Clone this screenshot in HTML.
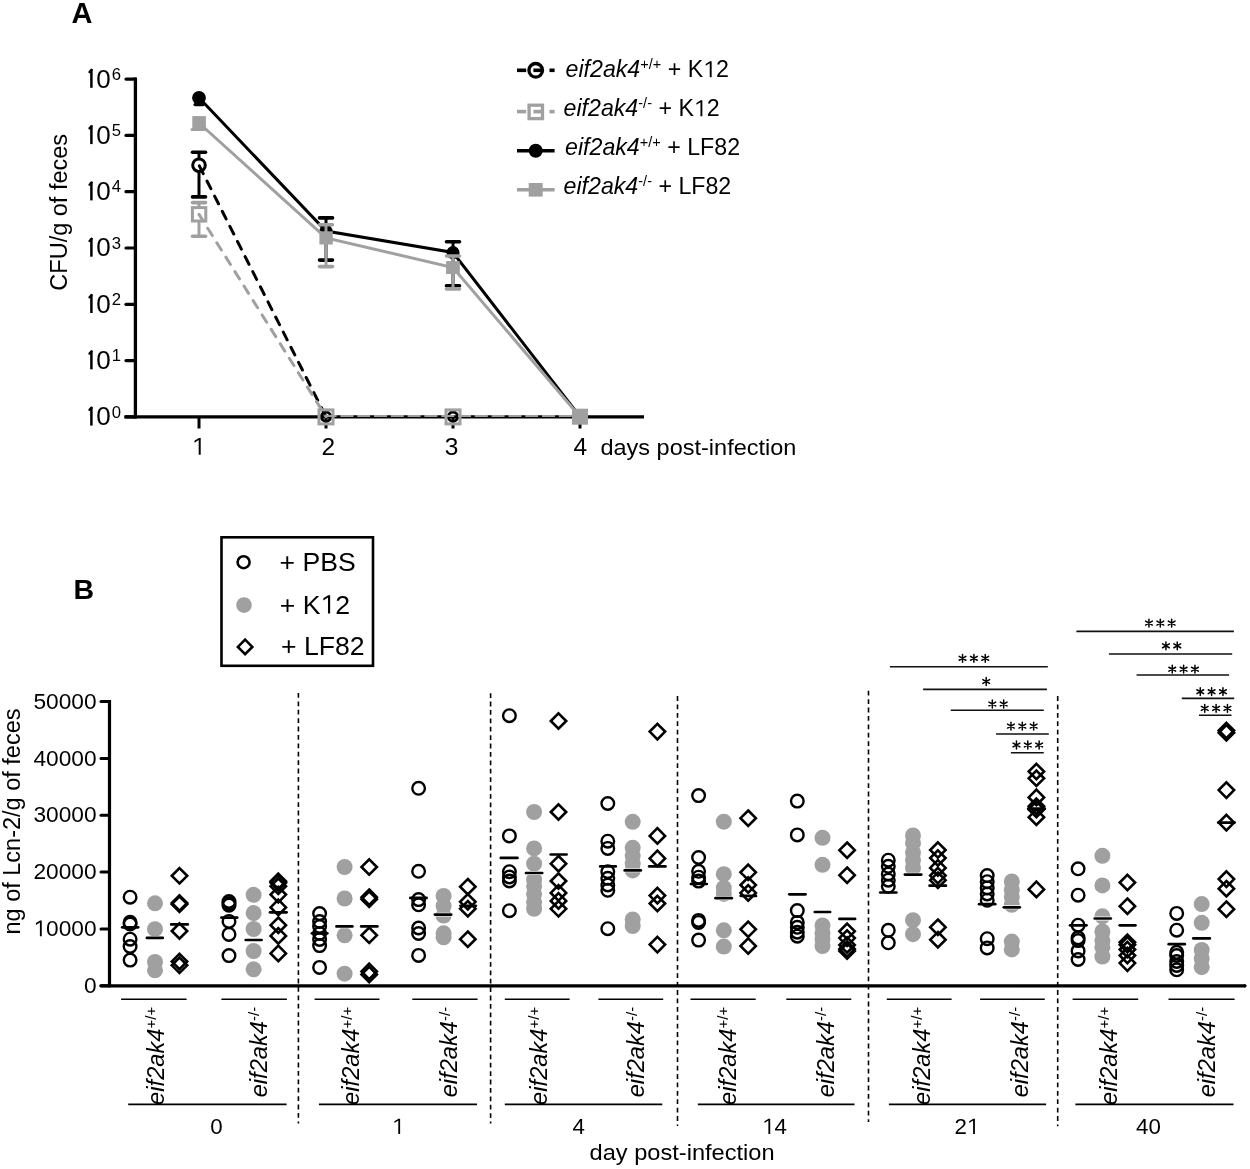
<!DOCTYPE html>
<html><head><meta charset="utf-8"><style>
html,body{margin:0;padding:0;background:#fff;width:1250px;height:1169px;overflow:hidden}
svg{display:block;filter:grayscale(100%)}
text{font-family:"Liberation Sans",sans-serif;fill:#000}
</style></head><body>
<svg width="1250" height="1169" viewBox="0 0 1250 1169">
<rect width="1250" height="1169" fill="#fff"/>
<text x="71.5" y="22.7" font-size="29" font-weight="bold">A</text>
<line x1="135.4" y1="77.50000000000003" x2="135.4" y2="418.5" stroke="#000" stroke-width="3.3"/>
<line x1="126" y1="416.9" x2="135.4" y2="416.9" stroke="#000" stroke-width="3.2" stroke-linecap="round"/>
<path d="M91.4,407.2V425.6" stroke="#000" stroke-width="2.5" fill="none"/>
<path d="M91.6,407.6L89.5,409.9" stroke="#000" stroke-width="2.3" stroke-linecap="round" fill="none"/>
<text x="96.3" y="425.3" font-size="26">0</text>
<text x="111.8" y="417.5" font-size="16.7">0</text>
<line x1="126" y1="360.6" x2="135.4" y2="360.6" stroke="#000" stroke-width="3.2" stroke-linecap="round"/>
<path d="M91.4,350.9V369.3" stroke="#000" stroke-width="2.5" fill="none"/>
<path d="M91.6,351.3L89.5,353.6" stroke="#000" stroke-width="2.3" stroke-linecap="round" fill="none"/>
<text x="96.3" y="369.0" font-size="26">0</text>
<text x="111.8" y="361.2" font-size="16.7">1</text>
<line x1="126" y1="304.3" x2="135.4" y2="304.3" stroke="#000" stroke-width="3.2" stroke-linecap="round"/>
<path d="M91.4,294.6V313.0" stroke="#000" stroke-width="2.5" fill="none"/>
<path d="M91.6,295.0L89.5,297.3" stroke="#000" stroke-width="2.3" stroke-linecap="round" fill="none"/>
<text x="96.3" y="312.7" font-size="26">0</text>
<text x="111.8" y="304.9" font-size="16.7">2</text>
<line x1="126" y1="248.0" x2="135.4" y2="248.0" stroke="#000" stroke-width="3.2" stroke-linecap="round"/>
<path d="M91.4,238.3V256.7" stroke="#000" stroke-width="2.5" fill="none"/>
<path d="M91.6,238.7L89.5,241.0" stroke="#000" stroke-width="2.3" stroke-linecap="round" fill="none"/>
<text x="96.3" y="256.4" font-size="26">0</text>
<text x="111.8" y="248.6" font-size="16.7">3</text>
<line x1="126" y1="191.7" x2="135.4" y2="191.7" stroke="#000" stroke-width="3.2" stroke-linecap="round"/>
<path d="M91.4,182.0V200.4" stroke="#000" stroke-width="2.5" fill="none"/>
<path d="M91.6,182.4L89.5,184.7" stroke="#000" stroke-width="2.3" stroke-linecap="round" fill="none"/>
<text x="96.3" y="200.1" font-size="26">0</text>
<text x="111.8" y="192.3" font-size="16.7">4</text>
<line x1="126" y1="135.4" x2="135.4" y2="135.4" stroke="#000" stroke-width="3.2" stroke-linecap="round"/>
<path d="M91.4,125.7V144.1" stroke="#000" stroke-width="2.5" fill="none"/>
<path d="M91.6,126.1L89.5,128.4" stroke="#000" stroke-width="2.3" stroke-linecap="round" fill="none"/>
<text x="96.3" y="143.8" font-size="26">0</text>
<text x="111.8" y="136.0" font-size="16.7">5</text>
<line x1="126" y1="79.1" x2="135.4" y2="79.1" stroke="#000" stroke-width="3.2" stroke-linecap="round"/>
<path d="M91.4,69.4V87.8" stroke="#000" stroke-width="2.5" fill="none"/>
<path d="M91.6,69.8L89.5,72.1" stroke="#000" stroke-width="2.3" stroke-linecap="round" fill="none"/>
<text x="96.3" y="87.5" font-size="26">0</text>
<text x="111.8" y="79.7" font-size="16.7">6</text>
<line x1="124.4" y1="416.9" x2="644" y2="416.9" stroke="#000" stroke-width="3.3"/>
<line x1="199" y1="417" x2="199" y2="428.5" stroke="#000" stroke-width="3"/>
<text x="191.79" y="454.80" font-size="24.5" > </text><path d="M578,0V1237L222,1010V1180L593,1409H745V0Z" transform="translate(191.79,454.80) scale(0.01196,-0.01196)" fill="#000"/>
<line x1="326" y1="417" x2="326" y2="428.5" stroke="#000" stroke-width="3"/>
<text x="321.59" y="454.80" font-size="24.5" >2</text>
<line x1="453" y1="417" x2="453" y2="428.5" stroke="#000" stroke-width="3"/>
<text x="444.79" y="454.80" font-size="24.5" >3</text>
<line x1="580" y1="417" x2="580" y2="428.5" stroke="#000" stroke-width="3"/>
<text x="573.59" y="454.80" font-size="24.5" >4</text>
<text x="600.4" y="454.5" font-size="22.6" textLength="196" lengthAdjust="spacingAndGlyphs">days post-infection</text>
<text transform="translate(67.4,212.3) rotate(-90)" font-size="23.5" text-anchor="middle">CFU/g of feces</text>
<line x1="199" y1="152.2" x2="199" y2="196.9" stroke="#000" stroke-width="3"/><line x1="192.5" y1="152.2" x2="205.5" y2="152.2" stroke="#000" stroke-width="3.6" stroke-linecap="round"/><line x1="192.5" y1="196.9" x2="205.5" y2="196.9" stroke="#000" stroke-width="3.6" stroke-linecap="round"/>
<line x1="326" y1="217.9" x2="326" y2="260.1" stroke="#000" stroke-width="3"/><line x1="319.5" y1="217.9" x2="332.5" y2="217.9" stroke="#000" stroke-width="3.6" stroke-linecap="round"/><line x1="319.5" y1="260.1" x2="332.5" y2="260.1" stroke="#000" stroke-width="3.6" stroke-linecap="round"/>
<line x1="453" y1="241.7" x2="453" y2="285.7" stroke="#000" stroke-width="3"/><line x1="446.5" y1="241.7" x2="459.5" y2="241.7" stroke="#000" stroke-width="3.6" stroke-linecap="round"/><line x1="446.5" y1="285.7" x2="459.5" y2="285.7" stroke="#000" stroke-width="3.6" stroke-linecap="round"/>
<line x1="195" y1="104.6" x2="203" y2="104.6" stroke="#000" stroke-width="3.2" stroke-linecap="round"/>
<circle cx="199" cy="165.2" r="6.3" fill="#fff" stroke="#000" stroke-width="3"/>
<circle cx="326" cy="416.7" r="4.6" fill="none" stroke="#000" stroke-width="3"/>
<circle cx="453" cy="416.7" r="4.6" fill="none" stroke="#000" stroke-width="3"/>
<line x1="199" y1="165.2" x2="326" y2="416.7" stroke="#000" stroke-width="3" stroke-dasharray="8.6 8.33" stroke-dashoffset="16.16" stroke-linecap="round"/>
<polyline points="199,97.8 326,231 453,252.5 580,416.7" fill="none" stroke="#000" stroke-width="3"/>
<circle cx="199" cy="97.8" r="6.9" fill="#000"/>
<circle cx="326" cy="231" r="6.5" fill="#000"/>
<circle cx="453" cy="252.6" r="6.5" fill="#000"/>
<line x1="199" y1="202.6" x2="199" y2="236.2" stroke="#a0a0a0" stroke-width="3"/><line x1="192.5" y1="202.6" x2="205.5" y2="202.6" stroke="#a0a0a0" stroke-width="3.6" stroke-linecap="round"/><line x1="192.5" y1="236.2" x2="205.5" y2="236.2" stroke="#a0a0a0" stroke-width="3.6" stroke-linecap="round"/>
<line x1="326" y1="224.7" x2="326" y2="266.6" stroke="#a0a0a0" stroke-width="3"/><line x1="319.5" y1="224.7" x2="332.5" y2="224.7" stroke="#a0a0a0" stroke-width="3.6" stroke-linecap="round"/><line x1="319.5" y1="266.6" x2="332.5" y2="266.6" stroke="#a0a0a0" stroke-width="3.6" stroke-linecap="round"/>
<line x1="453" y1="256.0" x2="453" y2="288.9" stroke="#a0a0a0" stroke-width="3"/><line x1="446.5" y1="256.0" x2="459.5" y2="256.0" stroke="#a0a0a0" stroke-width="3.6" stroke-linecap="round"/><line x1="446.5" y1="288.9" x2="459.5" y2="288.9" stroke="#a0a0a0" stroke-width="3.6" stroke-linecap="round"/>
<line x1="192" y1="129.4" x2="206" y2="129.4" stroke="#a0a0a0" stroke-width="3" stroke-linecap="round"/>
<rect x="192.4" y="207.6" width="13.4" height="13.4" fill="#fff" stroke="#a0a0a0" stroke-width="3"/>
<line x1="199" y1="214.4" x2="326" y2="416.7" stroke="#a0a0a0" stroke-width="3" stroke-dasharray="8.6 8.45" stroke-dashoffset="0.65" stroke-linecap="round"/>
<line x1="326" y1="415.9" x2="580" y2="415.9" stroke="#a0a0a0" stroke-width="2" stroke-dasharray="13 3.8" stroke-dashoffset="2.4"/>
<polyline points="199,123 326,237.9 453,267.5 580,416.7" fill="none" stroke="#a0a0a0" stroke-width="3"/>
<rect x="192.3" y="116.1" width="13.6" height="13.8" fill="#a0a0a0"/>
<rect x="319.4" y="231.3" width="13.4" height="13.2" fill="#a0a0a0"/>
<rect x="446.1" y="261.1" width="13.7" height="12.9" fill="#a0a0a0"/>
<rect x="319" y="409.9" width="14" height="14" fill="none" stroke="#a0a0a0" stroke-width="3"/>
<rect x="446" y="409.9" width="14" height="14" fill="none" stroke="#a0a0a0" stroke-width="3"/>
<rect x="572" y="408.7" width="16" height="16" fill="#a0a0a0"/>
<line x1="517" y1="70.3" x2="526.2" y2="70.3" stroke="#000" stroke-width="3.6"/>
<line x1="533.4" y1="70.3" x2="541" y2="70.3" stroke="#000" stroke-width="3.6"/>
<line x1="549.5" y1="70.3" x2="554.6" y2="70.3" stroke="#000" stroke-width="3.6"/>
<circle cx="535.7" cy="70.3" r="6.8" fill="none" stroke="#000" stroke-width="3.3"/>
<line x1="517" y1="111.6" x2="526.2" y2="111.6" stroke="#a0a0a0" stroke-width="3.6"/>
<line x1="533.4" y1="111.6" x2="541" y2="111.6" stroke="#a0a0a0" stroke-width="3.6"/>
<line x1="549.5" y1="111.6" x2="554.6" y2="111.6" stroke="#a0a0a0" stroke-width="3.6"/>
<rect x="529.1" y="105.2" width="13.4" height="13.4" fill="none" stroke="#a0a0a0" stroke-width="3.3"/>
<line x1="517" y1="150.8" x2="554.6" y2="150.8" stroke="#000" stroke-width="3.6"/>
<circle cx="535.7" cy="150.8" r="7" fill="#000"/>
<line x1="517" y1="189.8" x2="554.6" y2="189.8" stroke="#a0a0a0" stroke-width="3.6"/>
<rect x="528.7" y="183" width="14" height="13.6" fill="#a0a0a0"/>
<text x="565.5" y="77.3" font-size="23.2"><tspan font-style="italic">eif2ak4</tspan><tspan font-size="14.5" dy="-8.6">+/+</tspan><tspan dy="8.6"> + K 2</tspan></text><path d="M578,0V1237L222,1010V1180L593,1409H745V0Z" transform="translate(703.20,77.30) scale(0.01133,-0.01133)" fill="#000"/>
<text x="563.5" y="116.3" font-size="23.2"><tspan font-style="italic">eif2ak4</tspan><tspan font-size="14.5" dy="-8.6">-/-</tspan><tspan dy="8.6"> + K 2</tspan></text><path d="M578,0V1237L222,1010V1180L593,1409H745V0Z" transform="translate(693.92,116.30) scale(0.01133,-0.01133)" fill="#000"/>
<text x="565" y="155.3" font-size="23.2"><tspan font-style="italic">eif2ak4</tspan><tspan font-size="14.5" dy="-8.6">+/+</tspan><tspan dy="8.6"> + LF82</tspan></text>
<text x="563.5" y="194.3" font-size="23.2"><tspan font-style="italic">eif2ak4</tspan><tspan font-size="14.5" dy="-8.6">-/-</tspan><tspan dy="8.6"> + LF82</tspan></text>
<text x="73.6" y="599" font-size="28.5" font-weight="bold">B</text>
<rect x="221.5" y="537.3" width="151.5" height="128.5" fill="none" stroke="#000" stroke-width="2.6"/>
<circle cx="243.6" cy="562.2" r="6" fill="none" stroke="#000" stroke-width="2.6"/>
<circle cx="244" cy="605.1" r="7.8" fill="#a0a0a0"/>
<path d="M245.1,639.7 L252.3,646.9 L245.1,654.1 L237.9,646.9 Z" fill="none" stroke="#000" stroke-width="2.6"/>
<text x="279.5" y="570.5" font-size="26.6">+ PBS</text>
<text x="279.80" y="613.50" font-size="26.6" >+ K 2</text><path d="M578,0V1237L222,1010V1180L593,1409H745V0Z" transform="translate(320.47,613.50) scale(0.01299,-0.01299)" fill="#000"/>
<text x="281.1" y="655.3" font-size="26.6">+ LF82</text>
<line x1="109.5" y1="700" x2="109.5" y2="987.3" stroke="#000" stroke-width="3.2"/>
<line x1="101" y1="985.8" x2="1244.8" y2="985.8" stroke="#000" stroke-width="3.3" stroke-linecap="round"/>
<circle cx="1244.8" cy="985.8" r="1.65" fill="#000"/>
<line x1="101" y1="985.8" x2="109.5" y2="985.8" stroke="#000" stroke-width="3" stroke-linecap="round"/>
<text x="83.98" y="993.00" font-size="22.7" >0</text>
<line x1="101" y1="928.9" x2="109.5" y2="928.9" stroke="#000" stroke-width="3" stroke-linecap="round"/>
<text x="33.49" y="936.15" font-size="22.7" > 0000</text><path d="M578,0V1237L222,1010V1180L593,1409H745V0Z" transform="translate(33.49,936.15) scale(0.01108,-0.01108)" fill="#000"/>
<line x1="101" y1="872.1" x2="109.5" y2="872.1" stroke="#000" stroke-width="3" stroke-linecap="round"/>
<text x="33.49" y="879.30" font-size="22.7" >20000</text>
<line x1="101" y1="815.2" x2="109.5" y2="815.2" stroke="#000" stroke-width="3" stroke-linecap="round"/>
<text x="33.49" y="822.45" font-size="22.7" >30000</text>
<line x1="101" y1="758.4" x2="109.5" y2="758.4" stroke="#000" stroke-width="3" stroke-linecap="round"/>
<text x="33.49" y="765.60" font-size="22.7" >40000</text>
<line x1="101" y1="701.5" x2="109.5" y2="701.5" stroke="#000" stroke-width="3" stroke-linecap="round"/>
<text x="33.49" y="708.75" font-size="22.7" >50000</text>
<text transform="translate(19.8,821.5) rotate(-90)" font-size="23.5" text-anchor="middle">ng of Lcn-2/g of feces</text>
<line x1="298.4" y1="693" x2="298.4" y2="1123.5" stroke="#000" stroke-width="1.6" stroke-dasharray="4.8 3.6"/>
<line x1="490.6" y1="693.2" x2="490.6" y2="1123.6" stroke="#000" stroke-width="1.6" stroke-dasharray="4.8 3.6"/>
<line x1="677.5" y1="696.1" x2="677.5" y2="1126" stroke="#000" stroke-width="1.6" stroke-dasharray="4.8 3.6"/>
<line x1="868.5" y1="690.8" x2="868.5" y2="1122" stroke="#000" stroke-width="1.6" stroke-dasharray="4.8 3.6"/>
<line x1="1057.7" y1="696.1" x2="1057.7" y2="1126.3" stroke="#000" stroke-width="1.6" stroke-dasharray="4.8 3.6"/>
<line x1="121.1" y1="999.2" x2="186.6" y2="999.2" stroke="#000" stroke-width="1.6"/>
<line x1="221.4" y1="999.2" x2="286.9" y2="999.2" stroke="#000" stroke-width="1.6"/>
<line x1="128.2" y1="1104.4" x2="286.6" y2="1104.4" stroke="#000" stroke-width="1.6"/>
<text x="210.30" y="1134.00" font-size="22.3" >0</text>
<text transform="translate(163.7,1006.8) rotate(-90)" font-size="23.7" text-anchor="end"><tspan font-style="italic">eif2ak4</tspan><tspan font-size="15" dy="-7.6">+/+</tspan></text>
<text transform="translate(266.6,1006.8) rotate(-90)" font-size="23.7" text-anchor="end"><tspan font-style="italic">eif2ak4</tspan><tspan font-size="15" dy="-7.6">-/-</tspan></text>
<line x1="314.6" y1="999.2" x2="379.5" y2="999.2" stroke="#000" stroke-width="1.6"/>
<line x1="412.3" y1="999.2" x2="477.6" y2="999.2" stroke="#000" stroke-width="1.6"/>
<line x1="318.9" y1="1104.4" x2="477.0" y2="1104.4" stroke="#000" stroke-width="1.6"/>
<text x="392.00" y="1134.00" font-size="22.3" > </text><path d="M578,0V1237L222,1010V1180L593,1409H745V0Z" transform="translate(392.00,1134.00) scale(0.01089,-0.01089)" fill="#000"/>
<text transform="translate(359.3,1006.8) rotate(-90)" font-size="23.7" text-anchor="end"><tspan font-style="italic">eif2ak4</tspan><tspan font-size="15" dy="-7.6">+/+</tspan></text>
<text transform="translate(457.1,1006.8) rotate(-90)" font-size="23.7" text-anchor="end"><tspan font-style="italic">eif2ak4</tspan><tspan font-size="15" dy="-7.6">-/-</tspan></text>
<line x1="504.8" y1="999.2" x2="569.6" y2="999.2" stroke="#000" stroke-width="1.6"/>
<line x1="598.4" y1="999.2" x2="663.2" y2="999.2" stroke="#000" stroke-width="1.6"/>
<line x1="504.8" y1="1104.4" x2="662.3" y2="1104.4" stroke="#000" stroke-width="1.6"/>
<text x="572.40" y="1134.00" font-size="22.3" >4</text>
<text transform="translate(546.5,1006.8) rotate(-90)" font-size="23.7" text-anchor="end"><tspan font-style="italic">eif2ak4</tspan><tspan font-size="15" dy="-7.6">+/+</tspan></text>
<text transform="translate(644.3,1006.8) rotate(-90)" font-size="23.7" text-anchor="end"><tspan font-style="italic">eif2ak4</tspan><tspan font-size="15" dy="-7.6">-/-</tspan></text>
<line x1="690.5" y1="999.2" x2="755.7" y2="999.2" stroke="#000" stroke-width="1.6"/>
<line x1="786.3" y1="999.2" x2="851.3" y2="999.2" stroke="#000" stroke-width="1.6"/>
<line x1="697.8" y1="1104.4" x2="854.5" y2="1104.4" stroke="#000" stroke-width="1.6"/>
<text x="762.10" y="1134.00" font-size="22.3" > 4</text><path d="M578,0V1237L222,1010V1180L593,1409H745V0Z" transform="translate(762.10,1134.00) scale(0.01089,-0.01089)" fill="#000"/>
<text transform="translate(735.8,1006.8) rotate(-90)" font-size="23.7" text-anchor="end"><tspan font-style="italic">eif2ak4</tspan><tspan font-size="15" dy="-7.6">+/+</tspan></text>
<text transform="translate(833.8,1006.8) rotate(-90)" font-size="23.7" text-anchor="end"><tspan font-style="italic">eif2ak4</tspan><tspan font-size="15" dy="-7.6">-/-</tspan></text>
<line x1="886.8" y1="999.2" x2="951.6" y2="999.2" stroke="#000" stroke-width="1.6"/>
<line x1="980.1" y1="999.2" x2="1044.8" y2="999.2" stroke="#000" stroke-width="1.6"/>
<line x1="888.9" y1="1104.4" x2="1046.1" y2="1104.4" stroke="#000" stroke-width="1.6"/>
<text x="954.40" y="1134.00" font-size="22.3" >2 </text><path d="M578,0V1237L222,1010V1180L593,1409H745V0Z" transform="translate(966.80,1134.00) scale(0.01089,-0.01089)" fill="#000"/>
<text transform="translate(929.7,1006.8) rotate(-90)" font-size="23.7" text-anchor="end"><tspan font-style="italic">eif2ak4</tspan><tspan font-size="15" dy="-7.6">+/+</tspan></text>
<text transform="translate(1027.5,1006.8) rotate(-90)" font-size="23.7" text-anchor="end"><tspan font-style="italic">eif2ak4</tspan><tspan font-size="15" dy="-7.6">-/-</tspan></text>
<line x1="1072.6" y1="999.2" x2="1138.2" y2="999.2" stroke="#000" stroke-width="1.6"/>
<line x1="1168.5" y1="999.2" x2="1234.6" y2="999.2" stroke="#000" stroke-width="1.6"/>
<line x1="1075.4" y1="1104.4" x2="1233.5" y2="1104.4" stroke="#000" stroke-width="1.6"/>
<text x="1136.10" y="1134.00" font-size="22.3" >40</text>
<text transform="translate(1116.9,1006.8) rotate(-90)" font-size="23.7" text-anchor="end"><tspan font-style="italic">eif2ak4</tspan><tspan font-size="15" dy="-7.6">+/+</tspan></text>
<text transform="translate(1214.9,1006.8) rotate(-90)" font-size="23.7" text-anchor="end"><tspan font-style="italic">eif2ak4</tspan><tspan font-size="15" dy="-7.6">-/-</tspan></text>
<text x="589.6" y="1160" font-size="22.6" textLength="185" lengthAdjust="spacingAndGlyphs">day post-infection</text>
<circle cx="130.1" cy="897.2" r="6.3" fill="none" stroke="#000" stroke-width="2.4"/>
<circle cx="130.1" cy="922.3" r="6.3" fill="none" stroke="#000" stroke-width="2.4"/>
<circle cx="130.1" cy="924.0" r="6.3" fill="none" stroke="#000" stroke-width="2.4"/>
<circle cx="130.1" cy="939.2" r="6.3" fill="none" stroke="#000" stroke-width="2.4"/>
<circle cx="130.1" cy="946.5" r="6.3" fill="none" stroke="#000" stroke-width="2.4"/>
<circle cx="130.1" cy="960.1" r="6.3" fill="none" stroke="#000" stroke-width="2.4"/>
<line x1="122.2" y1="927.3" x2="138.10000000000002" y2="927.3" stroke="#000" stroke-width="2.7" stroke-linecap="round"/>
<circle cx="155.0" cy="903.3" r="8.0" fill="#a0a0a0"/>
<circle cx="155.0" cy="929.2" r="8.0" fill="#a0a0a0"/>
<circle cx="155.0" cy="962.0" r="8.0" fill="#a0a0a0"/>
<circle cx="155.0" cy="970.3" r="8.0" fill="#a0a0a0"/>
<line x1="146.7" y1="937.9" x2="163.0" y2="937.9" stroke="#fff" stroke-width="3.9" stroke-linecap="round"/><line x1="146.89999999999998" y1="937.9" x2="162.8" y2="937.9" stroke="#000" stroke-width="2.7" stroke-linecap="round"/>
<path d="M179.5,868.1 L187.2,875.8 L179.5,883.5 L171.8,875.8 Z" fill="none" stroke="#000" stroke-width="2.6"/>
<path d="M179.5,895.3 L187.2,903.0 L179.5,910.7 L171.8,903.0 Z" fill="none" stroke="#000" stroke-width="2.6"/>
<path d="M179.5,896.5 L187.2,904.2 L179.5,911.9 L171.8,904.2 Z" fill="none" stroke="#000" stroke-width="2.6"/>
<path d="M179.5,923.3 L187.2,931.0 L179.5,938.7 L171.8,931.0 Z" fill="none" stroke="#000" stroke-width="2.6"/>
<path d="M179.5,953.8 L187.2,961.5 L179.5,969.2 L171.8,961.5 Z" fill="none" stroke="#000" stroke-width="2.6"/>
<path d="M179.5,957.6 L187.2,965.3 L179.5,973.0 L171.8,965.3 Z" fill="none" stroke="#000" stroke-width="2.6"/>
<line x1="171.2" y1="924.4" x2="187.8" y2="924.4" stroke="#000" stroke-width="2.7" stroke-linecap="round"/>
<circle cx="229.0" cy="901.5" r="6.3" fill="none" stroke="#000" stroke-width="2.4"/>
<circle cx="229.0" cy="903.5" r="6.3" fill="none" stroke="#000" stroke-width="2.4"/>
<circle cx="229.0" cy="905.2" r="6.3" fill="none" stroke="#000" stroke-width="2.4"/>
<circle cx="229.0" cy="921.4" r="6.3" fill="none" stroke="#000" stroke-width="2.4"/>
<circle cx="229.0" cy="934.4" r="6.3" fill="none" stroke="#000" stroke-width="2.4"/>
<circle cx="229.0" cy="955.6" r="6.3" fill="none" stroke="#000" stroke-width="2.4"/>
<line x1="221.39999999999998" y1="917.6" x2="237.20000000000002" y2="917.6" stroke="#000" stroke-width="2.7" stroke-linecap="round"/>
<circle cx="253.6" cy="894.8" r="8.0" fill="#a0a0a0"/>
<circle cx="253.6" cy="913.1" r="8.0" fill="#a0a0a0"/>
<circle cx="253.6" cy="929.0" r="8.0" fill="#a0a0a0"/>
<circle cx="253.6" cy="951.0" r="8.0" fill="#a0a0a0"/>
<circle cx="253.6" cy="969.3" r="8.0" fill="#a0a0a0"/>
<line x1="245.5" y1="940.0" x2="261.8" y2="940.0" stroke="#fff" stroke-width="3.9" stroke-linecap="round"/><line x1="245.7" y1="940.0" x2="261.6" y2="940.0" stroke="#000" stroke-width="2.7" stroke-linecap="round"/>
<path d="M278.3,873.6 L286.0,881.3 L278.3,889.0 L270.6,881.3 Z" fill="none" stroke="#000" stroke-width="2.6"/>
<path d="M278.3,875.1 L286.0,882.8 L278.3,890.5 L270.6,882.8 Z" fill="none" stroke="#000" stroke-width="2.6"/>
<path d="M278.3,878.5 L286.0,886.2 L278.3,893.9 L270.6,886.2 Z" fill="none" stroke="#000" stroke-width="2.6"/>
<path d="M278.3,886.9 L286.0,894.6 L278.3,902.3 L270.6,894.6 Z" fill="none" stroke="#000" stroke-width="2.6"/>
<path d="M278.3,899.7 L286.0,907.4 L278.3,915.1 L270.6,907.4 Z" fill="none" stroke="#000" stroke-width="2.6"/>
<path d="M278.3,917.5 L286.0,925.2 L278.3,932.9 L270.6,925.2 Z" fill="none" stroke="#000" stroke-width="2.6"/>
<path d="M278.3,928.2 L286.0,935.9 L278.3,943.6 L270.6,935.9 Z" fill="none" stroke="#000" stroke-width="2.6"/>
<path d="M278.3,945.7 L286.0,953.4 L278.3,961.1 L270.6,953.4 Z" fill="none" stroke="#000" stroke-width="2.6"/>
<line x1="270.0" y1="912.3" x2="286.6" y2="912.3" stroke="#000" stroke-width="2.7" stroke-linecap="round"/>
<circle cx="319.6" cy="913.6" r="6.3" fill="none" stroke="#000" stroke-width="2.4"/>
<circle cx="319.6" cy="921.5" r="6.3" fill="none" stroke="#000" stroke-width="2.4"/>
<circle cx="319.6" cy="926.5" r="6.3" fill="none" stroke="#000" stroke-width="2.4"/>
<circle cx="319.6" cy="933.5" r="6.3" fill="none" stroke="#000" stroke-width="2.4"/>
<circle cx="319.6" cy="939.5" r="6.3" fill="none" stroke="#000" stroke-width="2.4"/>
<circle cx="319.6" cy="945.6" r="6.3" fill="none" stroke="#000" stroke-width="2.4"/>
<circle cx="319.6" cy="967.4" r="6.3" fill="none" stroke="#000" stroke-width="2.4"/>
<line x1="311.9" y1="933.3" x2="327.3" y2="933.3" stroke="#000" stroke-width="2.7" stroke-linecap="round"/>
<circle cx="344.6" cy="867.0" r="8.0" fill="#a0a0a0"/>
<circle cx="344.6" cy="898.5" r="8.0" fill="#a0a0a0"/>
<circle cx="344.6" cy="935.3" r="8.0" fill="#a0a0a0"/>
<circle cx="344.6" cy="973.7" r="8.0" fill="#a0a0a0"/>
<line x1="336.3" y1="926.4" x2="352.6" y2="926.4" stroke="#fff" stroke-width="3.9" stroke-linecap="round"/><line x1="336.5" y1="926.4" x2="352.40000000000003" y2="926.4" stroke="#000" stroke-width="2.7" stroke-linecap="round"/>
<path d="M369.2,859.3 L376.9,867.0 L369.2,874.7 L361.5,867.0 Z" fill="none" stroke="#000" stroke-width="2.6"/>
<path d="M369.2,889.5 L376.9,897.2 L369.2,904.9 L361.5,897.2 Z" fill="none" stroke="#000" stroke-width="2.6"/>
<path d="M369.2,891.5 L376.9,899.2 L369.2,906.9 L361.5,899.2 Z" fill="none" stroke="#000" stroke-width="2.6"/>
<path d="M369.2,927.6 L376.9,935.3 L369.2,943.0 L361.5,935.3 Z" fill="none" stroke="#000" stroke-width="2.6"/>
<path d="M369.2,963.7 L376.9,971.4 L369.2,979.1 L361.5,971.4 Z" fill="none" stroke="#000" stroke-width="2.6"/>
<path d="M369.2,966.8 L376.9,974.5 L369.2,982.2 L361.5,974.5 Z" fill="none" stroke="#000" stroke-width="2.6"/>
<line x1="361.2" y1="926.4" x2="377.40000000000003" y2="926.4" stroke="#000" stroke-width="2.7" stroke-linecap="round"/>
<circle cx="418.6" cy="788.3" r="6.3" fill="none" stroke="#000" stroke-width="2.4"/>
<circle cx="418.6" cy="871.3" r="6.3" fill="none" stroke="#000" stroke-width="2.4"/>
<circle cx="418.6" cy="899.6" r="6.3" fill="none" stroke="#000" stroke-width="2.4"/>
<circle cx="418.6" cy="904.8" r="6.3" fill="none" stroke="#000" stroke-width="2.4"/>
<circle cx="418.6" cy="928.0" r="6.3" fill="none" stroke="#000" stroke-width="2.4"/>
<circle cx="418.6" cy="933.5" r="6.3" fill="none" stroke="#000" stroke-width="2.4"/>
<circle cx="418.6" cy="955.4" r="6.3" fill="none" stroke="#000" stroke-width="2.4"/>
<line x1="410.3" y1="897.9" x2="426.6" y2="897.9" stroke="#000" stroke-width="2.7" stroke-linecap="round"/>
<circle cx="443.6" cy="895.9" r="8.0" fill="#a0a0a0"/>
<circle cx="443.6" cy="905.8" r="8.0" fill="#a0a0a0"/>
<circle cx="443.6" cy="915.6" r="8.0" fill="#a0a0a0"/>
<circle cx="443.6" cy="933.3" r="8.0" fill="#a0a0a0"/>
<circle cx="443.6" cy="937.3" r="8.0" fill="#a0a0a0"/>
<line x1="434.7" y1="914.6" x2="451.4" y2="914.6" stroke="#fff" stroke-width="3.9" stroke-linecap="round"/><line x1="434.9" y1="914.6" x2="451.2" y2="914.6" stroke="#000" stroke-width="2.7" stroke-linecap="round"/>
<path d="M467.8,879.0 L475.5,886.7 L467.8,894.4 L460.1,886.7 Z" fill="none" stroke="#000" stroke-width="2.6"/>
<path d="M467.8,894.1 L475.5,901.8 L467.8,909.5 L460.1,901.8 Z" fill="none" stroke="#000" stroke-width="2.6"/>
<path d="M467.8,901.0 L475.5,908.7 L467.8,916.4 L460.1,908.7 Z" fill="none" stroke="#000" stroke-width="2.6"/>
<path d="M467.8,931.5 L475.5,939.2 L467.8,946.9 L460.1,939.2 Z" fill="none" stroke="#000" stroke-width="2.6"/>
<line x1="460.5" y1="905.8" x2="475.8" y2="905.8" stroke="#000" stroke-width="2.7" stroke-linecap="round"/>
<circle cx="509.4" cy="715.7" r="6.3" fill="none" stroke="#000" stroke-width="2.4"/>
<circle cx="509.4" cy="835.9" r="6.3" fill="none" stroke="#000" stroke-width="2.4"/>
<circle cx="509.4" cy="871.7" r="6.3" fill="none" stroke="#000" stroke-width="2.4"/>
<circle cx="509.4" cy="877.0" r="6.3" fill="none" stroke="#000" stroke-width="2.4"/>
<circle cx="509.4" cy="881.0" r="6.3" fill="none" stroke="#000" stroke-width="2.4"/>
<circle cx="509.4" cy="910.7" r="6.3" fill="none" stroke="#000" stroke-width="2.4"/>
<line x1="500.8" y1="857.9" x2="517.5" y2="857.9" stroke="#000" stroke-width="2.7" stroke-linecap="round"/>
<circle cx="534.1" cy="812.0" r="8.0" fill="#a0a0a0"/>
<circle cx="534.1" cy="848.4" r="8.0" fill="#a0a0a0"/>
<circle cx="534.1" cy="863.7" r="8.0" fill="#a0a0a0"/>
<circle cx="534.1" cy="879.7" r="8.0" fill="#a0a0a0"/>
<circle cx="534.1" cy="886.3" r="8.0" fill="#a0a0a0"/>
<circle cx="534.1" cy="894.2" r="8.0" fill="#a0a0a0"/>
<circle cx="534.1" cy="902.2" r="8.0" fill="#a0a0a0"/>
<circle cx="534.1" cy="908.8" r="8.0" fill="#a0a0a0"/>
<line x1="525.8" y1="873.0" x2="542.4" y2="873.0" stroke="#fff" stroke-width="3.9" stroke-linecap="round"/><line x1="526.0" y1="873.0" x2="542.1999999999999" y2="873.0" stroke="#000" stroke-width="2.7" stroke-linecap="round"/>
<path d="M558.5,713.3 L566.2,721.0 L558.5,728.7 L550.8,721.0 Z" fill="none" stroke="#000" stroke-width="2.6"/>
<path d="M558.5,804.3 L566.2,812.0 L558.5,819.7 L550.8,812.0 Z" fill="none" stroke="#000" stroke-width="2.6"/>
<path d="M558.5,856.0 L566.2,863.7 L558.5,871.4 L550.8,863.7 Z" fill="none" stroke="#000" stroke-width="2.6"/>
<path d="M558.5,873.3 L566.2,881.0 L558.5,888.7 L550.8,881.0 Z" fill="none" stroke="#000" stroke-width="2.6"/>
<path d="M558.5,885.2 L566.2,892.9 L558.5,900.6 L550.8,892.9 Z" fill="none" stroke="#000" stroke-width="2.6"/>
<path d="M558.5,893.2 L566.2,900.9 L558.5,908.6 L550.8,900.9 Z" fill="none" stroke="#000" stroke-width="2.6"/>
<path d="M558.5,901.1 L566.2,908.8 L558.5,916.5 L550.8,908.8 Z" fill="none" stroke="#000" stroke-width="2.6"/>
<line x1="550.7" y1="854.5" x2="566.5999999999999" y2="854.5" stroke="#000" stroke-width="2.7" stroke-linecap="round"/>
<circle cx="607.8" cy="803.5" r="6.3" fill="none" stroke="#000" stroke-width="2.4"/>
<circle cx="607.8" cy="841.2" r="6.3" fill="none" stroke="#000" stroke-width="2.4"/>
<circle cx="607.8" cy="848.4" r="6.3" fill="none" stroke="#000" stroke-width="2.4"/>
<circle cx="607.8" cy="871.7" r="6.3" fill="none" stroke="#000" stroke-width="2.4"/>
<circle cx="607.8" cy="878.3" r="6.3" fill="none" stroke="#000" stroke-width="2.4"/>
<circle cx="607.8" cy="885.0" r="6.3" fill="none" stroke="#000" stroke-width="2.4"/>
<circle cx="607.8" cy="890.3" r="6.3" fill="none" stroke="#000" stroke-width="2.4"/>
<circle cx="607.8" cy="928.7" r="6.3" fill="none" stroke="#000" stroke-width="2.4"/>
<line x1="600.2" y1="866.4" x2="615.8" y2="866.4" stroke="#000" stroke-width="2.7" stroke-linecap="round"/>
<circle cx="632.7" cy="821.8" r="8.0" fill="#a0a0a0"/>
<circle cx="632.7" cy="847.8" r="8.0" fill="#a0a0a0"/>
<circle cx="632.7" cy="855.8" r="8.0" fill="#a0a0a0"/>
<circle cx="632.7" cy="863.7" r="8.0" fill="#a0a0a0"/>
<circle cx="632.7" cy="870.4" r="8.0" fill="#a0a0a0"/>
<circle cx="632.7" cy="919.4" r="8.0" fill="#a0a0a0"/>
<circle cx="632.7" cy="926.0" r="8.0" fill="#a0a0a0"/>
<line x1="624.5" y1="870.4" x2="641.0" y2="870.4" stroke="#fff" stroke-width="3.9" stroke-linecap="round"/><line x1="624.7" y1="870.4" x2="640.8" y2="870.4" stroke="#000" stroke-width="2.7" stroke-linecap="round"/>
<path d="M657.4,723.9 L665.1,731.6 L657.4,739.3 L649.6999999999999,731.6 Z" fill="none" stroke="#000" stroke-width="2.6"/>
<path d="M657.4,828.2 L665.1,835.9 L657.4,843.6 L649.6999999999999,835.9 Z" fill="none" stroke="#000" stroke-width="2.6"/>
<path d="M657.4,850.7 L665.1,858.4 L657.4,866.1 L649.6999999999999,858.4 Z" fill="none" stroke="#000" stroke-width="2.6"/>
<path d="M657.4,887.9 L665.1,895.6 L657.4,903.3 L649.6999999999999,895.6 Z" fill="none" stroke="#000" stroke-width="2.6"/>
<path d="M657.4,895.8 L665.1,903.5 L657.4,911.2 L649.6999999999999,903.5 Z" fill="none" stroke="#000" stroke-width="2.6"/>
<path d="M657.4,936.9 L665.1,944.6 L657.4,952.3 L649.6999999999999,944.6 Z" fill="none" stroke="#000" stroke-width="2.6"/>
<line x1="649.2" y1="866.4" x2="665.5" y2="866.4" stroke="#000" stroke-width="2.7" stroke-linecap="round"/>
<circle cx="698.6" cy="795.6" r="6.3" fill="none" stroke="#000" stroke-width="2.4"/>
<circle cx="698.6" cy="857.5" r="6.3" fill="none" stroke="#000" stroke-width="2.4"/>
<circle cx="698.6" cy="871.3" r="6.3" fill="none" stroke="#000" stroke-width="2.4"/>
<circle cx="698.6" cy="877.2" r="6.3" fill="none" stroke="#000" stroke-width="2.4"/>
<circle cx="698.6" cy="881.1" r="6.3" fill="none" stroke="#000" stroke-width="2.4"/>
<circle cx="698.6" cy="920.4" r="6.3" fill="none" stroke="#000" stroke-width="2.4"/>
<circle cx="698.6" cy="922.4" r="6.3" fill="none" stroke="#000" stroke-width="2.4"/>
<circle cx="698.6" cy="940.1" r="6.3" fill="none" stroke="#000" stroke-width="2.4"/>
<line x1="690.9000000000001" y1="884.0" x2="706.8" y2="884.0" stroke="#000" stroke-width="2.7" stroke-linecap="round"/>
<circle cx="723.8" cy="821.7" r="8.0" fill="#a0a0a0"/>
<circle cx="723.8" cy="874.2" r="8.0" fill="#a0a0a0"/>
<circle cx="723.8" cy="888.0" r="8.0" fill="#a0a0a0"/>
<circle cx="723.8" cy="893.9" r="8.0" fill="#a0a0a0"/>
<circle cx="723.8" cy="930.3" r="8.0" fill="#a0a0a0"/>
<circle cx="723.8" cy="946.6" r="8.0" fill="#a0a0a0"/>
<line x1="715.3" y1="898.2" x2="732.0" y2="898.2" stroke="#fff" stroke-width="3.9" stroke-linecap="round"/><line x1="715.5" y1="898.2" x2="731.8" y2="898.2" stroke="#000" stroke-width="2.7" stroke-linecap="round"/>
<path d="M748.2,810.5 L755.9000000000001,818.2 L748.2,825.9 L740.5,818.2 Z" fill="none" stroke="#000" stroke-width="2.6"/>
<path d="M748.2,864.6 L755.9000000000001,872.3 L748.2,880.0 L740.5,872.3 Z" fill="none" stroke="#000" stroke-width="2.6"/>
<path d="M748.2,877.3 L755.9000000000001,885.0 L748.2,892.7 L740.5,885.0 Z" fill="none" stroke="#000" stroke-width="2.6"/>
<path d="M748.2,885.2 L755.9000000000001,892.9 L748.2,900.6 L740.5,892.9 Z" fill="none" stroke="#000" stroke-width="2.6"/>
<path d="M748.2,921.6 L755.9000000000001,929.3 L748.2,937.0 L740.5,929.3 Z" fill="none" stroke="#000" stroke-width="2.6"/>
<path d="M748.2,938.3 L755.9000000000001,946.0 L748.2,953.7 L740.5,946.0 Z" fill="none" stroke="#000" stroke-width="2.6"/>
<line x1="740.7" y1="895.9" x2="756.0" y2="895.9" stroke="#000" stroke-width="2.7" stroke-linecap="round"/>
<circle cx="797.3" cy="801.1" r="6.3" fill="none" stroke="#000" stroke-width="2.4"/>
<circle cx="797.3" cy="834.9" r="6.3" fill="none" stroke="#000" stroke-width="2.4"/>
<circle cx="797.3" cy="910.6" r="6.3" fill="none" stroke="#000" stroke-width="2.4"/>
<circle cx="797.3" cy="922.4" r="6.3" fill="none" stroke="#000" stroke-width="2.4"/>
<circle cx="797.3" cy="927.3" r="6.3" fill="none" stroke="#000" stroke-width="2.4"/>
<circle cx="797.3" cy="932.2" r="6.3" fill="none" stroke="#000" stroke-width="2.4"/>
<circle cx="797.3" cy="936.2" r="6.3" fill="none" stroke="#000" stroke-width="2.4"/>
<line x1="789.3000000000001" y1="894.3" x2="805.5999999999999" y2="894.3" stroke="#000" stroke-width="2.7" stroke-linecap="round"/>
<circle cx="822.5" cy="837.8" r="8.0" fill="#a0a0a0"/>
<circle cx="822.5" cy="864.8" r="8.0" fill="#a0a0a0"/>
<circle cx="822.5" cy="925.4" r="8.0" fill="#a0a0a0"/>
<circle cx="822.5" cy="933.2" r="8.0" fill="#a0a0a0"/>
<circle cx="822.5" cy="939.1" r="8.0" fill="#a0a0a0"/>
<circle cx="822.5" cy="946.0" r="8.0" fill="#a0a0a0"/>
<line x1="814.6" y1="912.0" x2="830.3" y2="912.0" stroke="#fff" stroke-width="3.9" stroke-linecap="round"/><line x1="814.8000000000001" y1="912.0" x2="830.0999999999999" y2="912.0" stroke="#000" stroke-width="2.7" stroke-linecap="round"/>
<path d="M847.1,842.5 L854.8000000000001,850.2 L847.1,857.9 L839.4,850.2 Z" fill="none" stroke="#000" stroke-width="2.6"/>
<path d="M847.1,867.5 L854.8000000000001,875.2 L847.1,882.9 L839.4,875.2 Z" fill="none" stroke="#000" stroke-width="2.6"/>
<path d="M847.1,923.6 L854.8000000000001,931.3 L847.1,939.0 L839.4,931.3 Z" fill="none" stroke="#000" stroke-width="2.6"/>
<path d="M847.1,930.4 L854.8000000000001,938.1 L847.1,945.8 L839.4,938.1 Z" fill="none" stroke="#000" stroke-width="2.6"/>
<path d="M847.1,937.3 L854.8000000000001,945.0 L847.1,952.7 L839.4,945.0 Z" fill="none" stroke="#000" stroke-width="2.6"/>
<path d="M847.1,941.3 L854.8000000000001,949.0 L847.1,956.7 L839.4,949.0 Z" fill="none" stroke="#000" stroke-width="2.6"/>
<path d="M847.1,943.3 L854.8000000000001,951.0 L847.1,958.7 L839.4,951.0 Z" fill="none" stroke="#000" stroke-width="2.6"/>
<line x1="839.4000000000001" y1="918.9" x2="855.0999999999999" y2="918.9" stroke="#000" stroke-width="2.7" stroke-linecap="round"/>
<circle cx="888.3" cy="860.2" r="6.3" fill="none" stroke="#000" stroke-width="2.4"/>
<circle cx="888.3" cy="866.3" r="6.3" fill="none" stroke="#000" stroke-width="2.4"/>
<circle cx="888.3" cy="874.0" r="6.3" fill="none" stroke="#000" stroke-width="2.4"/>
<circle cx="888.3" cy="880.2" r="6.3" fill="none" stroke="#000" stroke-width="2.4"/>
<circle cx="888.3" cy="886.3" r="6.3" fill="none" stroke="#000" stroke-width="2.4"/>
<circle cx="888.3" cy="930.3" r="6.3" fill="none" stroke="#000" stroke-width="2.4"/>
<circle cx="888.3" cy="942.8" r="6.3" fill="none" stroke="#000" stroke-width="2.4"/>
<line x1="880.2" y1="892.5" x2="896.4" y2="892.5" stroke="#000" stroke-width="2.7" stroke-linecap="round"/>
<circle cx="913.0" cy="835.5" r="8.0" fill="#a0a0a0"/>
<circle cx="913.0" cy="843.2" r="8.0" fill="#a0a0a0"/>
<circle cx="913.0" cy="852.5" r="8.0" fill="#a0a0a0"/>
<circle cx="913.0" cy="860.2" r="8.0" fill="#a0a0a0"/>
<circle cx="913.0" cy="867.9" r="8.0" fill="#a0a0a0"/>
<circle cx="913.0" cy="920.2" r="8.0" fill="#a0a0a0"/>
<circle cx="913.0" cy="934.2" r="8.0" fill="#a0a0a0"/>
<line x1="904.7" y1="874.6" x2="921.5" y2="874.6" stroke="#fff" stroke-width="3.9" stroke-linecap="round"/><line x1="904.9000000000001" y1="874.6" x2="921.3" y2="874.6" stroke="#000" stroke-width="2.7" stroke-linecap="round"/>
<path d="M937.9,842.3 L945.6,850.0 L937.9,857.7 L930.1999999999999,850.0 Z" fill="none" stroke="#000" stroke-width="2.6"/>
<path d="M937.9,850.3 L945.6,858.0 L937.9,865.7 L930.1999999999999,858.0 Z" fill="none" stroke="#000" stroke-width="2.6"/>
<path d="M937.9,860.2 L945.6,867.9 L937.9,875.6 L930.1999999999999,867.9 Z" fill="none" stroke="#000" stroke-width="2.6"/>
<path d="M937.9,867.9 L945.6,875.6 L937.9,883.3 L930.1999999999999,875.6 Z" fill="none" stroke="#000" stroke-width="2.6"/>
<path d="M937.9,872.5 L945.6,880.2 L937.9,887.9 L930.1999999999999,880.2 Z" fill="none" stroke="#000" stroke-width="2.6"/>
<path d="M937.9,919.5 L945.6,927.2 L937.9,934.9 L930.1999999999999,927.2 Z" fill="none" stroke="#000" stroke-width="2.6"/>
<path d="M937.9,932.0 L945.6,939.7 L937.9,947.4 L930.1999999999999,939.7 Z" fill="none" stroke="#000" stroke-width="2.6"/>
<line x1="929.6" y1="885.7" x2="945.9" y2="885.7" stroke="#000" stroke-width="2.7" stroke-linecap="round"/>
<circle cx="987.2" cy="875.6" r="6.3" fill="none" stroke="#000" stroke-width="2.4"/>
<circle cx="987.2" cy="881.7" r="6.3" fill="none" stroke="#000" stroke-width="2.4"/>
<circle cx="987.2" cy="887.9" r="6.3" fill="none" stroke="#000" stroke-width="2.4"/>
<circle cx="987.2" cy="894.0" r="6.3" fill="none" stroke="#000" stroke-width="2.4"/>
<circle cx="987.2" cy="900.2" r="6.3" fill="none" stroke="#000" stroke-width="2.4"/>
<circle cx="987.2" cy="938.7" r="6.3" fill="none" stroke="#000" stroke-width="2.4"/>
<circle cx="987.2" cy="947.9" r="6.3" fill="none" stroke="#000" stroke-width="2.4"/>
<line x1="979.1" y1="904.2" x2="995.1999999999999" y2="904.2" stroke="#000" stroke-width="2.7" stroke-linecap="round"/>
<circle cx="1011.8" cy="881.5" r="8.0" fill="#a0a0a0"/>
<circle cx="1011.8" cy="890.0" r="8.0" fill="#a0a0a0"/>
<circle cx="1011.8" cy="897.1" r="8.0" fill="#a0a0a0"/>
<circle cx="1011.8" cy="904.8" r="8.0" fill="#a0a0a0"/>
<circle cx="1011.8" cy="941.6" r="8.0" fill="#a0a0a0"/>
<circle cx="1011.8" cy="949.4" r="8.0" fill="#a0a0a0"/>
<line x1="1003.6" y1="907.3" x2="1020.0" y2="907.3" stroke="#fff" stroke-width="3.9" stroke-linecap="round"/><line x1="1003.8000000000001" y1="907.3" x2="1019.8" y2="907.3" stroke="#000" stroke-width="2.7" stroke-linecap="round"/>
<path d="M1036.4,763.8 L1044.1000000000001,771.5 L1036.4,779.2 L1028.7,771.5 Z" fill="none" stroke="#000" stroke-width="2.6"/>
<path d="M1036.4,770.6 L1044.1000000000001,778.3 L1036.4,786.0 L1028.7,778.3 Z" fill="none" stroke="#000" stroke-width="2.6"/>
<path d="M1036.4,789.7 L1044.1000000000001,797.4 L1036.4,805.1 L1028.7,797.4 Z" fill="none" stroke="#000" stroke-width="2.6"/>
<path d="M1036.4,798.6 L1044.1000000000001,806.3 L1036.4,814.0 L1028.7,806.3 Z" fill="none" stroke="#000" stroke-width="2.6"/>
<path d="M1036.4,801.7 L1044.1000000000001,809.4 L1036.4,817.1 L1028.7,809.4 Z" fill="none" stroke="#000" stroke-width="2.6"/>
<path d="M1036.4,809.5 L1044.1000000000001,817.2 L1036.4,824.9 L1028.7,817.2 Z" fill="none" stroke="#000" stroke-width="2.6"/>
<path d="M1036.4,881.7 L1044.1000000000001,889.4 L1036.4,897.1 L1028.7,889.4 Z" fill="none" stroke="#000" stroke-width="2.6"/>
<line x1="1028.2" y1="808.7" x2="1044.8" y2="808.7" stroke="#000" stroke-width="2.7" stroke-linecap="round"/>
<circle cx="1078.1" cy="868.8" r="6.3" fill="none" stroke="#000" stroke-width="2.4"/>
<circle cx="1078.1" cy="895.2" r="6.3" fill="none" stroke="#000" stroke-width="2.4"/>
<circle cx="1078.1" cy="925.2" r="6.3" fill="none" stroke="#000" stroke-width="2.4"/>
<circle cx="1078.1" cy="937.8" r="6.3" fill="none" stroke="#000" stroke-width="2.4"/>
<circle cx="1078.1" cy="940.6" r="6.3" fill="none" stroke="#000" stroke-width="2.4"/>
<circle cx="1078.1" cy="950.9" r="6.3" fill="none" stroke="#000" stroke-width="2.4"/>
<circle cx="1078.1" cy="959.5" r="6.3" fill="none" stroke="#000" stroke-width="2.4"/>
<line x1="1070.0" y1="925.3" x2="1086.5" y2="925.3" stroke="#000" stroke-width="2.7" stroke-linecap="round"/>
<circle cx="1102.4" cy="855.8" r="8.0" fill="#a0a0a0"/>
<circle cx="1102.4" cy="885.4" r="8.0" fill="#a0a0a0"/>
<circle cx="1102.4" cy="916.3" r="8.0" fill="#a0a0a0"/>
<circle cx="1102.4" cy="931.5" r="8.0" fill="#a0a0a0"/>
<circle cx="1102.4" cy="940.5" r="8.0" fill="#a0a0a0"/>
<circle cx="1102.4" cy="947.3" r="8.0" fill="#a0a0a0"/>
<circle cx="1102.4" cy="956.6" r="8.0" fill="#a0a0a0"/>
<line x1="1094.5" y1="918.5" x2="1111.0" y2="918.5" stroke="#fff" stroke-width="3.9" stroke-linecap="round"/><line x1="1094.7" y1="918.5" x2="1110.8" y2="918.5" stroke="#000" stroke-width="2.7" stroke-linecap="round"/>
<path d="M1127.4,874.8 L1135.1000000000001,882.5 L1127.4,890.2 L1119.7,882.5 Z" fill="none" stroke="#000" stroke-width="2.6"/>
<path d="M1127.4,898.5 L1135.1000000000001,906.2 L1127.4,913.9 L1119.7,906.2 Z" fill="none" stroke="#000" stroke-width="2.6"/>
<path d="M1127.4,934.6 L1135.1000000000001,942.3 L1127.4,950.0 L1119.7,942.3 Z" fill="none" stroke="#000" stroke-width="2.6"/>
<path d="M1127.4,937.1 L1135.1000000000001,944.8 L1127.4,952.5 L1119.7,944.8 Z" fill="none" stroke="#000" stroke-width="2.6"/>
<path d="M1127.4,941.8 L1135.1000000000001,949.5 L1127.4,957.2 L1119.7,949.5 Z" fill="none" stroke="#000" stroke-width="2.6"/>
<path d="M1127.4,947.8 L1135.1000000000001,955.5 L1127.4,963.2 L1119.7,955.5 Z" fill="none" stroke="#000" stroke-width="2.6"/>
<path d="M1127.4,955.4 L1135.1000000000001,963.1 L1127.4,970.8 L1119.7,963.1 Z" fill="none" stroke="#000" stroke-width="2.6"/>
<line x1="1119.7" y1="925.3" x2="1135.3999999999999" y2="925.3" stroke="#000" stroke-width="2.7" stroke-linecap="round"/>
<circle cx="1176.7" cy="913.4" r="6.3" fill="none" stroke="#000" stroke-width="2.4"/>
<circle cx="1176.7" cy="930.2" r="6.3" fill="none" stroke="#000" stroke-width="2.4"/>
<circle cx="1176.7" cy="952.3" r="6.3" fill="none" stroke="#000" stroke-width="2.4"/>
<circle cx="1176.7" cy="955.5" r="6.3" fill="none" stroke="#000" stroke-width="2.4"/>
<circle cx="1176.7" cy="961.5" r="6.3" fill="none" stroke="#000" stroke-width="2.4"/>
<circle cx="1176.7" cy="965.5" r="6.3" fill="none" stroke="#000" stroke-width="2.4"/>
<circle cx="1176.7" cy="969.8" r="6.3" fill="none" stroke="#000" stroke-width="2.4"/>
<line x1="1168.7" y1="944.2" x2="1184.8" y2="944.2" stroke="#000" stroke-width="2.7" stroke-linecap="round"/>
<circle cx="1201.7" cy="904.1" r="8.0" fill="#a0a0a0"/>
<circle cx="1201.7" cy="922.8" r="8.0" fill="#a0a0a0"/>
<circle cx="1201.7" cy="950.0" r="8.0" fill="#a0a0a0"/>
<circle cx="1201.7" cy="958.5" r="8.0" fill="#a0a0a0"/>
<circle cx="1201.7" cy="967.2" r="8.0" fill="#a0a0a0"/>
<line x1="1193.1" y1="938.4" x2="1210.0" y2="938.4" stroke="#fff" stroke-width="3.9" stroke-linecap="round"/><line x1="1193.3" y1="938.4" x2="1209.8" y2="938.4" stroke="#000" stroke-width="2.7" stroke-linecap="round"/>
<path d="M1226.4,722.8 L1234.1000000000001,730.5 L1226.4,738.2 L1218.7,730.5 Z" fill="none" stroke="#000" stroke-width="2.6"/>
<path d="M1226.4,725.1 L1234.1000000000001,732.8 L1226.4,740.5 L1218.7,732.8 Z" fill="none" stroke="#000" stroke-width="2.6"/>
<path d="M1226.4,782.4 L1234.1000000000001,790.1 L1226.4,797.8 L1218.7,790.1 Z" fill="none" stroke="#000" stroke-width="2.6"/>
<path d="M1226.4,814.9 L1234.1000000000001,822.6 L1226.4,830.3 L1218.7,822.6 Z" fill="none" stroke="#000" stroke-width="2.6"/>
<path d="M1226.4,871.4 L1234.1000000000001,879.1 L1226.4,886.8 L1218.7,879.1 Z" fill="none" stroke="#000" stroke-width="2.6"/>
<path d="M1226.4,881.0 L1234.1000000000001,888.7 L1226.4,896.4 L1218.7,888.7 Z" fill="none" stroke="#000" stroke-width="2.6"/>
<path d="M1226.4,901.5 L1234.1000000000001,909.2 L1226.4,916.9 L1218.7,909.2 Z" fill="none" stroke="#000" stroke-width="2.6"/>
<line x1="1218.2" y1="822.6" x2="1234.6" y2="822.6" stroke="#000" stroke-width="2.7" stroke-linecap="round"/>
<line x1="889.9" y1="666.8" x2="1047.8" y2="666.8" stroke="#111" stroke-width="1.6"/>
<path d="M962.55,654.40V662.20M959.17,656.35L965.93,660.25M959.17,660.25L965.93,656.35" stroke="#000" stroke-width="1.5" stroke-linecap="round" fill="none"/>
<path d="M973.90,654.40V662.20M970.52,656.35L977.28,660.25M970.52,660.25L977.28,656.35" stroke="#000" stroke-width="1.5" stroke-linecap="round" fill="none"/>
<path d="M985.25,654.40V662.20M981.87,656.35L988.63,660.25M981.87,660.25L988.63,656.35" stroke="#000" stroke-width="1.5" stroke-linecap="round" fill="none"/>
<line x1="923.1" y1="689.4" x2="1046.9" y2="689.4" stroke="#111" stroke-width="1.6"/>
<path d="M986.20,677.60V685.40M982.82,679.55L989.58,683.45M982.82,683.45L989.58,679.55" stroke="#000" stroke-width="1.5" stroke-linecap="round" fill="none"/>
<line x1="950.8" y1="710.2" x2="1043.8" y2="710.2" stroke="#111" stroke-width="1.6"/>
<path d="M992.33,700.10V707.90M988.95,702.05L995.70,705.95M988.95,705.95L995.70,702.05" stroke="#000" stroke-width="1.5" stroke-linecap="round" fill="none"/>
<path d="M1003.67,700.10V707.90M1000.30,702.05L1007.05,705.95M1000.30,705.95L1007.05,702.05" stroke="#000" stroke-width="1.5" stroke-linecap="round" fill="none"/>
<line x1="996.1" y1="734.0" x2="1048.8" y2="734.0" stroke="#111" stroke-width="1.6"/>
<path d="M1010.95,722.20V730.00M1007.57,724.15L1014.33,728.05M1007.57,728.05L1014.33,724.15" stroke="#000" stroke-width="1.5" stroke-linecap="round" fill="none"/>
<path d="M1022.30,722.20V730.00M1018.92,724.15L1025.68,728.05M1018.92,728.05L1025.68,724.15" stroke="#000" stroke-width="1.5" stroke-linecap="round" fill="none"/>
<path d="M1033.65,722.20V730.00M1030.27,724.15L1037.03,728.05M1030.27,728.05L1037.03,724.15" stroke="#000" stroke-width="1.5" stroke-linecap="round" fill="none"/>
<line x1="1010.9" y1="752.7" x2="1043.8" y2="752.7" stroke="#111" stroke-width="1.6"/>
<path d="M1016.45,741.10V748.90M1013.07,743.05L1019.83,746.95M1013.07,746.95L1019.83,743.05" stroke="#000" stroke-width="1.5" stroke-linecap="round" fill="none"/>
<path d="M1027.80,741.10V748.90M1024.42,743.05L1031.18,746.95M1024.42,746.95L1031.18,743.05" stroke="#000" stroke-width="1.5" stroke-linecap="round" fill="none"/>
<path d="M1039.15,741.10V748.90M1035.77,743.05L1042.53,746.95M1035.77,746.95L1042.53,743.05" stroke="#000" stroke-width="1.5" stroke-linecap="round" fill="none"/>
<line x1="1076.4" y1="631.4" x2="1233.9" y2="631.4" stroke="#111" stroke-width="1.6"/>
<path d="M1148.95,619.20V627.00M1145.57,621.15L1152.33,625.05M1145.57,625.05L1152.33,621.15" stroke="#000" stroke-width="1.5" stroke-linecap="round" fill="none"/>
<path d="M1160.30,619.20V627.00M1156.92,621.15L1163.68,625.05M1156.92,625.05L1163.68,621.15" stroke="#000" stroke-width="1.5" stroke-linecap="round" fill="none"/>
<path d="M1171.65,619.20V627.00M1168.27,621.15L1175.03,625.05M1168.27,625.05L1175.03,621.15" stroke="#000" stroke-width="1.5" stroke-linecap="round" fill="none"/>
<line x1="1108.9" y1="654.0" x2="1232.2" y2="654.0" stroke="#111" stroke-width="1.6"/>
<path d="M1165.92,641.90V649.70M1162.55,643.85L1169.30,647.75M1162.55,647.75L1169.30,643.85" stroke="#000" stroke-width="1.5" stroke-linecap="round" fill="none"/>
<path d="M1177.27,641.90V649.70M1173.90,643.85L1180.65,647.75M1173.90,647.75L1180.65,643.85" stroke="#000" stroke-width="1.5" stroke-linecap="round" fill="none"/>
<line x1="1136.6" y1="675.0" x2="1229.1" y2="675.0" stroke="#111" stroke-width="1.6"/>
<path d="M1172.25,665.30V673.10M1168.87,667.25L1175.63,671.15M1168.87,671.15L1175.63,667.25" stroke="#000" stroke-width="1.5" stroke-linecap="round" fill="none"/>
<path d="M1183.60,665.30V673.10M1180.22,667.25L1186.98,671.15M1180.22,671.15L1186.98,667.25" stroke="#000" stroke-width="1.5" stroke-linecap="round" fill="none"/>
<path d="M1194.95,665.30V673.10M1191.57,667.25L1198.33,671.15M1191.57,671.15L1198.33,667.25" stroke="#000" stroke-width="1.5" stroke-linecap="round" fill="none"/>
<line x1="1181.8" y1="698.4" x2="1234.2" y2="698.4" stroke="#111" stroke-width="1.6"/>
<path d="M1200.25,687.80V695.60M1196.87,689.75L1203.63,693.65M1196.87,693.65L1203.63,689.75" stroke="#000" stroke-width="1.5" stroke-linecap="round" fill="none"/>
<path d="M1211.60,687.80V695.60M1208.22,689.75L1214.98,693.65M1208.22,693.65L1214.98,689.75" stroke="#000" stroke-width="1.5" stroke-linecap="round" fill="none"/>
<path d="M1222.95,687.80V695.60M1219.57,689.75L1226.33,693.65M1219.57,693.65L1226.33,689.75" stroke="#000" stroke-width="1.5" stroke-linecap="round" fill="none"/>
<line x1="1199.0" y1="715.2" x2="1231.5" y2="715.2" stroke="#111" stroke-width="1.6"/>
<path d="M1204.75,704.50V712.30M1201.37,706.45L1208.13,710.35M1201.37,710.35L1208.13,706.45" stroke="#000" stroke-width="1.5" stroke-linecap="round" fill="none"/>
<path d="M1216.10,704.50V712.30M1212.72,706.45L1219.48,710.35M1212.72,710.35L1219.48,706.45" stroke="#000" stroke-width="1.5" stroke-linecap="round" fill="none"/>
<path d="M1227.45,704.50V712.30M1224.07,706.45L1230.83,710.35M1224.07,710.35L1230.83,706.45" stroke="#000" stroke-width="1.5" stroke-linecap="round" fill="none"/>
</svg>
</body></html>
